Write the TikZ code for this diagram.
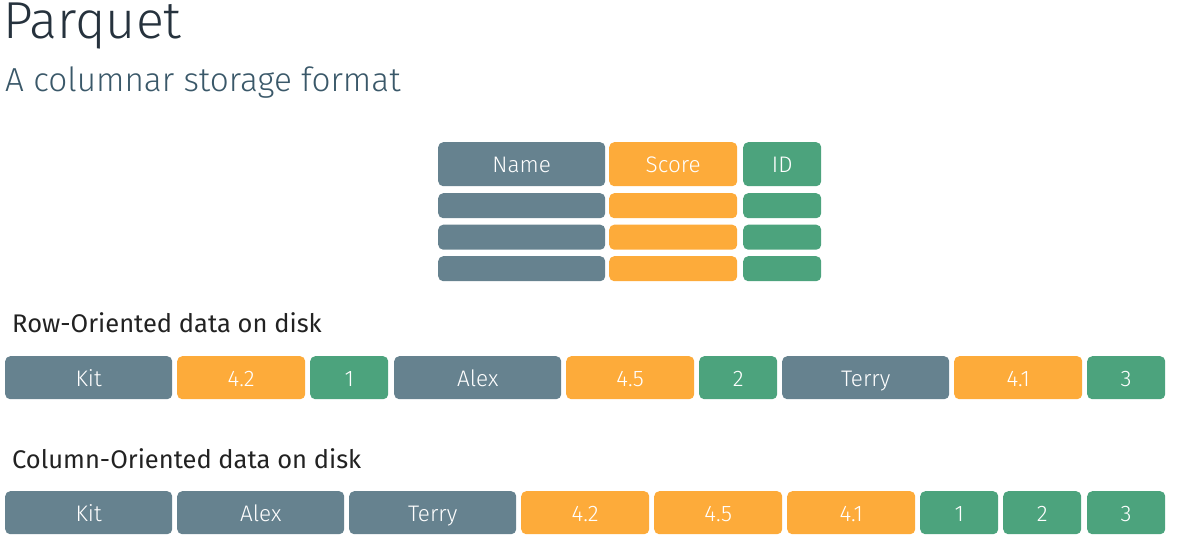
\documentclass[tikz,border=0pt]{standalone}
\usepackage{fontspec}
\setmainfont{Fira Sans Light}
\newfontfamily\regfont{Fira Sans}
\definecolor{slate}{HTML}{66828F}
\definecolor{amber}{HTML}{FDAB3A}
\definecolor{jade}{HTML}{4CA37D}
\definecolor{titlecol}{HTML}{26323D}
\definecolor{subcol}{HTML}{3A5869}
\definecolor{labcol}{HTML}{222222}
\begin{document}
\begin{tikzpicture}[x=1pt,y=-1pt,
  cell/.style={rounded corners=5pt, inner sep=0pt, anchor=north west, text=white, font=\fontsize{22.5}{26}\selectfont, text depth=0pt},
  namecell/.style={cell, fill=slate, minimum width=167pt},
  scorecell/.style={cell, fill=amber, minimum width=128pt},
  idcell/.style={cell, fill=jade, minimum width=78pt},
  hdr/.style={minimum height=44pt, text height=16.5pt},
  blank/.style={minimum height=25pt},
  disk/.style={minimum height=43pt, text height=18pt},
  seclabel/.style={anchor=base west, inner sep=0pt, text=labcol, font=\regfont\fontsize{25.5}{30}\selectfont}]
\useasboundingbox (0,0) rectangle (1177,543);
% titles
\node[anchor=base west, inner sep=0pt, text=titlecol, font=\fontsize{52}{58}\selectfont] (title) at (3,39) {Parquet};
\node[anchor=base west, inner sep=0pt, text=subcol, font=\fontsize{33.3}{38}\selectfont] (subtitle) at (5,91) {A columnar storage format};
% table
\node[namecell,hdr] (hname) at (438,142) {Name};
\node[scorecell,hdr] (hscore) at (609,142) {Score};
\node[idcell,hdr] (hid) at (743,142) {ID};
\foreach \r/\yy in {1/193,2/224.5,3/256}{
  \node[namecell,blank] (n\r) at (438,\yy) {};
  \node[scorecell,blank] (s\r) at (609,\yy) {};
  \node[idcell,blank] (i\r) at (743,\yy) {};
}
% row oriented
\node[seclabel] (rowlab) at (12,332) {Row-Oriented data on disk};
\node[namecell,disk] (r1) at (5,356) {Kit};
\node[scorecell,disk] (r2) at (177,356) {4.2};
\node[idcell,disk] (r3) at (310,356) {1};
\node[namecell,disk] (r4) at (394,356) {Alex};
\node[scorecell,disk] (r5) at (566,356) {4.5};
\node[idcell,disk] (r6) at (699,356) {2};
\node[namecell,disk] (r7) at (782,356) {Terry};
\node[scorecell,disk] (r8) at (954,356) {4.1};
\node[idcell,disk] (r9) at (1087,356) {3};
% column oriented
\node[seclabel] (collab) at (12,468) {Column-Oriented data on disk};
\node[namecell,disk] (c1) at (5,491) {Kit};
\node[namecell,disk] (c2) at (177,491) {Alex};
\node[namecell,disk] (c3) at (349,491) {Terry};
\node[scorecell,disk] (c4) at (521,491) {4.2};
\node[scorecell,disk] (c5) at (654,491) {4.5};
\node[scorecell,disk] (c6) at (787,491) {4.1};
\node[idcell,disk] (c7) at (920,491) {1};
\node[idcell,disk] (c8) at (1003,491) {2};
\node[idcell,disk] (c9) at (1087,491) {3};
\end{tikzpicture}
\end{document}
